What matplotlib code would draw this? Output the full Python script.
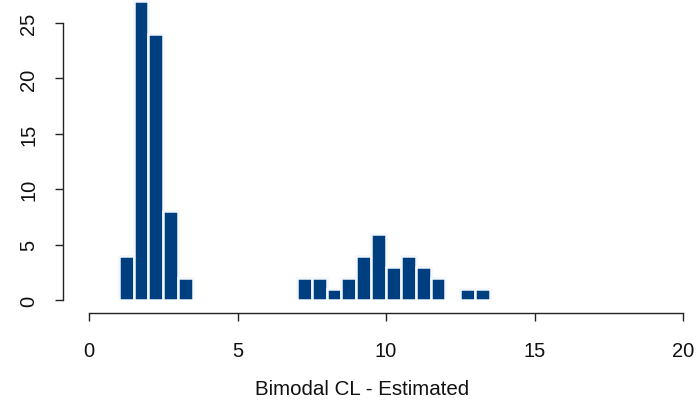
import numpy as np
import matplotlib
matplotlib.use("Agg")
import matplotlib.pyplot as plt

# histogram bins (left edges, width 0.5) and counts
bin_left = [1.0, 1.5, 2.0, 2.5, 3.0,
            7.0, 7.5, 8.0, 8.5, 9.0, 9.5, 10.0, 10.5, 11.0, 11.5,
            12.5, 13.0]
counts = [4, 27, 24, 8, 2,
          2, 2, 1, 2, 4, 6, 3, 4, 3, 2,
          1, 1]
bin_width = 0.5
x_ticks = [0, 5, 10, 15, 20]
y_ticks = [0, 5, 10, 15, 20, 25]
xlab = "Bimodal CL - Estimated"

plt.rcParams['font.family'] = ['Liberation Sans', 'DejaVu Sans']

fig = plt.figure(figsize=(7, 4.06), dpi=100)
ax = fig.add_axes([63 / 700, 105 / 406, 629 / 700, 300.3 / 406])

ax.bar(bin_left, counts, width=bin_width, align='edge',
       color='#003F7F', edgecolor='#f4f7fb', linewidth=1.8)

ax.set_xlim(-0.875, 20.3)
ax.set_ylim(0, 27.1)

for s in ['top', 'right']:
    ax.spines[s].set_visible(False)
ax.spines['left'].set_bounds(0, 25)
ax.spines['bottom'].set_bounds(0, 20)
ax.spines['bottom'].set_position(('outward', 9.4))
for s in ['left', 'bottom']:
    ax.spines[s].set_linewidth(1.0)
    ax.spines[s].set_color('#222222')

ax.set_xticks(x_ticks)
ax.set_yticks(y_ticks)
ax.tick_params(axis='both', direction='out', length=5.8, width=1.0,
               color='#222222', labelsize=14.5, labelcolor='#111111')
ax.tick_params(axis='x', pad=14)
ax.tick_params(axis='y', pad=12)
for lab in ax.get_yticklabels():
    lab.set_rotation(90)
    lab.set_va('center')

fig.text(362 / 700, 1 - 390 / 406, xlab, ha='center', va='center',
         fontsize=14.8, color='#111111')

fig.savefig("out.png", dpi=100)
